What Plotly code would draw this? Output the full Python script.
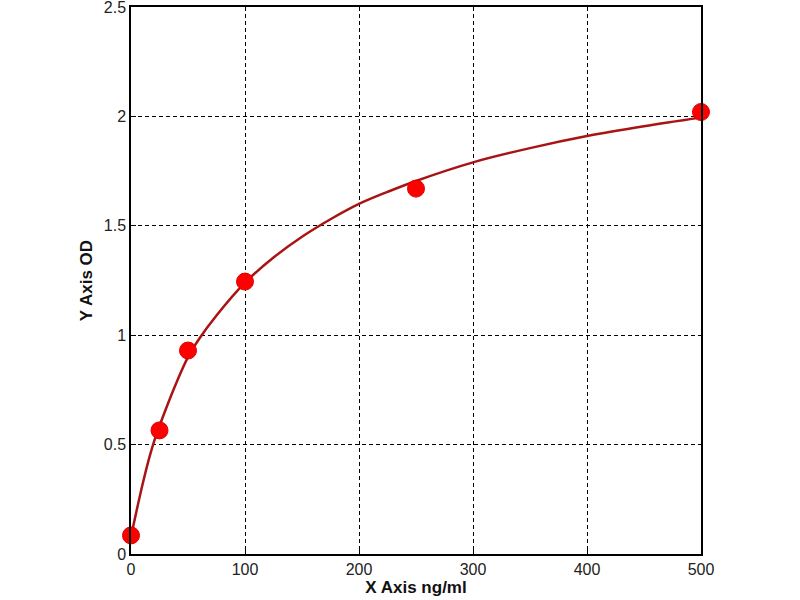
import plotly.graph_objects as go

# standard points (concentration ng/ml vs OD)
conc = [0, 25, 50, 100, 250, 500]
od = [0.085, 0.565, 0.93, 1.245, 1.67, 2.02]

# fitted curve
curve_x = [0, 5, 10, 15, 20, 25, 30, 40, 50, 60, 75, 100, 125, 150, 175,
           200, 225, 250, 300, 350, 400, 450, 500]
curve_y = [0.08, 0.20, 0.315, 0.42, 0.51, 0.585, 0.655, 0.785, 0.90, 0.985,
           1.09, 1.24, 1.355, 1.45, 1.53, 1.60, 1.655, 1.705, 1.79, 1.855,
           1.91, 1.955, 1.995]

x_ticks = [0, 100, 200, 300, 400, 500]
y_ticks = [0, 0.5, 1, 1.5, 2, 2.5]
y_labels = ['0', '0.5', '1', '1.5', '2', '2.5']

font_name = 'Liberation Sans, Arial, sans-serif'

fig = go.Figure()

fig.add_trace(go.Scatter(
    x=curve_x, y=curve_y,
    mode='lines',
    line=dict(color='#a81414', width=2.5, shape='spline', smoothing=1.0),
    showlegend=False,
    hoverinfo='skip',
))

fig.add_trace(go.Scatter(
    x=conc, y=od,
    mode='markers',
    marker=dict(symbol='circle', size=17, color='#ff0000',
                line=dict(color='#e00000', width=1)),
    showlegend=False,
    cliponaxis=False,
))

axis_common = dict(
    automargin=False,
    ticklabeloverflow='allow',
    showline=True,
    mirror=True,
    linecolor='black',
    linewidth=1.5,
    showgrid=True,
    gridcolor='black',
    gridwidth=1,
    griddash='4px,3px',
    zeroline=False,
    ticks='inside',
    ticklen=5,
    tickcolor='black',
    tickfont=dict(family=font_name, size=16, color='#222222'),
)

fig.update_layout(
    width=800,
    height=600,
    margin=dict(l=131, r=99, t=7, b=46),
    paper_bgcolor='white',
    plot_bgcolor='white',
    xaxis=dict(
        range=[0, 500],
        tickvals=x_ticks,
        title=dict(text='<b>X Axis ng/ml</b>', standoff=1,
                   font=dict(family=font_name, size=17, color='#111111')),
        **axis_common,
    ),
    yaxis=dict(
        range=[0, 2.5],
        tickvals=y_ticks,
        ticktext=y_labels,
        title=dict(text='<b>Y Axis OD</b>', standoff=7,
                   font=dict(family=font_name, size=17, color='#111111')),
        **axis_common,
    ),
)

# the page's default body margin would shift the figure by 8px
fig.write_html("out.html", config={'displayModeBar': False},
               post_script="document.body.style.margin='0px';")
